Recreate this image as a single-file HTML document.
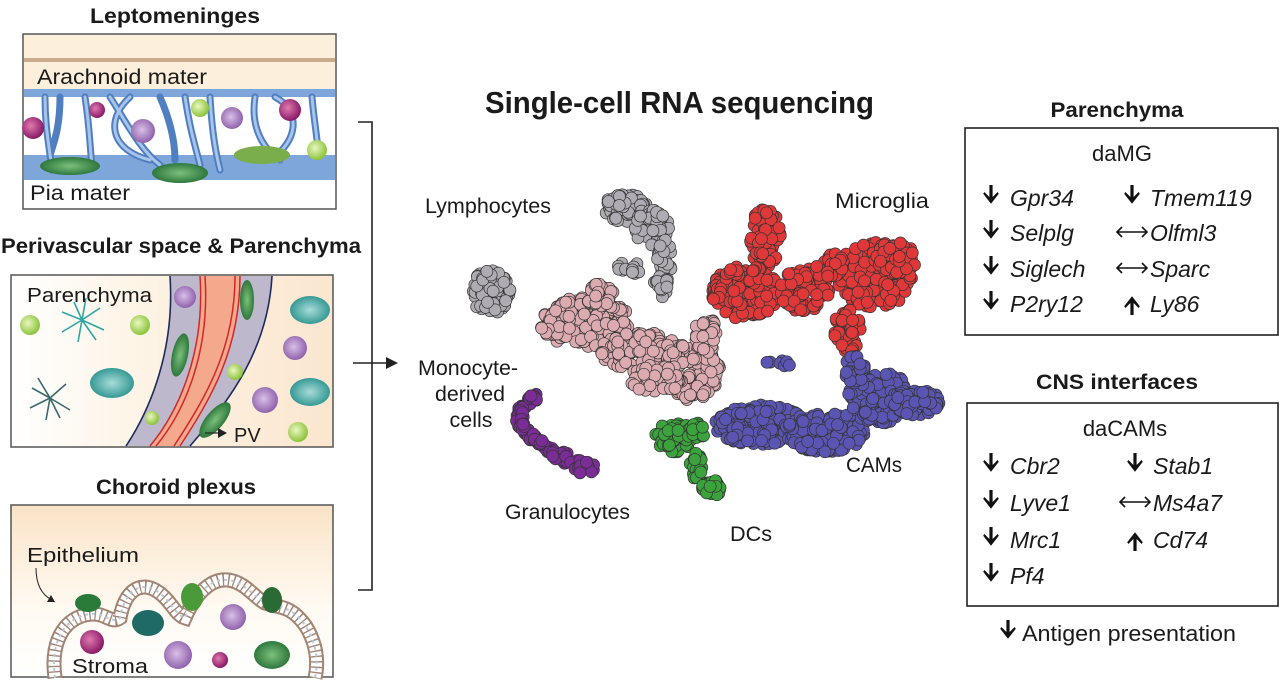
<!DOCTYPE html>
<html><head><meta charset="utf-8"><style>
html,body{margin:0;padding:0;background:#fff;}
svg{display:block;}
text{font-family:"Liberation Sans",sans-serif;fill:#1a1a1a;}
.b{font-weight:bold;}
.i{font-style:italic;}
</style></head><body>
<svg id="s" width="1280" height="682" viewBox="0 0 1280 682" xmlns="http://www.w3.org/2000/svg">
<defs>
<linearGradient id="pv" x1="0" x2="1" y1="0" y2="0"><stop offset="0" stop-color="#ffffff"/><stop offset="0.5" stop-color="#fdf1e0"/><stop offset="1" stop-color="#fbe6cf"/></linearGradient>
<linearGradient id="cp" x1="0" x2="0" y1="0" y2="1"><stop offset="0" stop-color="#fae3c6"/><stop offset="0.6" stop-color="#fffaf2"/><stop offset="1" stop-color="#ffffff"/></linearGradient>
<radialGradient id="mag" cx="0.4" cy="0.4" r="0.6"><stop offset="0" stop-color="#e07ab0"/><stop offset="1" stop-color="#8a1a66"/></radialGradient>
<radialGradient id="lg" cx="0.4" cy="0.4" r="0.6"><stop offset="0" stop-color="#eaf7c0"/><stop offset="1" stop-color="#8cc43c"/></radialGradient>
<radialGradient id="pur" cx="0.45" cy="0.45" r="0.6"><stop offset="0" stop-color="#d9c0e6"/><stop offset="1" stop-color="#8a5aa8"/></radialGradient>
<radialGradient id="dg" cx="0.5" cy="0.5" r="0.6"><stop offset="0" stop-color="#7cc07c"/><stop offset="1" stop-color="#1f6a30"/></radialGradient>
<radialGradient id="tl" cx="0.5" cy="0.5" r="0.6"><stop offset="0" stop-color="#a8dcd8"/><stop offset="1" stop-color="#1f8c88"/></radialGradient>
<path id="ep" d="M55,678 C50,640 65,620 85,615 C105,610 110,625 120,618 C125,590 140,582 155,590 C170,598 175,615 185,618 C195,595 210,578 228,580 C245,582 255,598 265,603 C280,608 290,605 305,625 C318,645 318,665 315,678"/>
</defs>

<text x="175" y="23" class="b" font-size="21" text-anchor="middle" textLength="170" lengthAdjust="spacingAndGlyphs">Leptomeninges</text>
<rect x="23" y="34" width="313" height="175" fill="#fff" stroke="#555" stroke-width="1.5"/>
<rect x="24" y="35" width="311" height="54" fill="#fcf0dc"/>
<rect x="24" y="58" width="311" height="4" fill="#c9ab8c"/>
<text x="37" y="84" font-size="21" textLength="170" lengthAdjust="spacingAndGlyphs">Arachnoid mater</text>
<rect x="24" y="89" width="311" height="8" fill="#7ea6da"/>
<rect x="24" y="155" width="311" height="25" fill="#7ea6da"/>
<g fill="none" stroke="#4f7fc0" stroke-width="7" stroke-linecap="round">
<path d="M45,97 C45,130 50,150 52,170"/><path d="M60,97 C60,125 55,140 50,155"/>
<path d="M85,97 C90,130 90,150 92,165"/><path d="M110,97 C125,120 140,150 160,165"/>
<path d="M130,97 C105,120 110,150 150,160"/><path d="M160,97 C170,120 175,140 175,160"/>
<path d="M185,97 C190,130 195,145 200,165"/><path d="M210,97 C212,130 215,150 220,170"/>
<path d="M255,97 C250,130 265,150 280,160"/><path d="M275,97 C300,110 300,140 270,160"/>
<path d="M312,97 C315,130 318,140 318,155"/>
</g>
<g fill="none" stroke="#a9c4ea" stroke-width="3" stroke-linecap="round">
<path d="M45,97 C45,130 50,150 52,170"/><path d="M85,97 C90,130 90,150 92,165"/><path d="M110,97 C125,120 140,150 160,165"/><path d="M130,97 C105,120 110,150 150,160"/><path d="M185,97 C190,130 195,145 200,165"/><path d="M210,97 C212,130 215,150 220,170"/><path d="M255,97 C250,130 265,150 280,160"/><path d="M275,97 C300,110 300,140 270,160"/><path d="M312,97 C315,130 318,140 318,155"/>
</g>
<ellipse cx="70" cy="166" rx="30" ry="9" fill="url(#dg)"/><ellipse cx="180" cy="173" rx="28" ry="10" fill="url(#dg)"/><ellipse cx="262" cy="155" rx="28" ry="9" fill="#7aae4c"/>
<circle cx="33" cy="128" r="11" fill="url(#mag)"/><circle cx="97" cy="110" r="8" fill="url(#mag)"/><circle cx="290" cy="110" r="11" fill="url(#mag)"/>
<circle cx="200" cy="108" r="9" fill="url(#lg)"/><circle cx="317" cy="150" r="10" fill="url(#lg)"/>
<circle cx="143" cy="131" r="12" fill="url(#pur)"/><circle cx="232" cy="118" r="11" fill="url(#pur)"/>
<text x="30" y="200" font-size="21" textLength="100" lengthAdjust="spacingAndGlyphs">Pia mater</text>

<text x="181" y="253" class="b" font-size="21" text-anchor="middle" textLength="360" lengthAdjust="spacingAndGlyphs">Perivascular space &amp; Parenchyma</text>
<rect x="11" y="275" width="322" height="172" fill="url(#pv)" stroke="#555" stroke-width="1.5"/>
<path d="M170,276 C175,350 150,410 126,446 L190,446 C230,400 268,350 272,276 Z" fill="#bdb8cc"/>
<path d="M200,276 C205,350 180,410 150,446 L180,446 C210,400 240,350 240,276 Z" fill="#f4a98c"/>
<g fill="none" stroke="#d02828" stroke-width="1.5">
<path d="M200,276 C205,350 180,410 150,446"/><path d="M205,276 C210,350 186,410 156,446"/>
<path d="M240,276 C240,350 210,400 180,446"/><path d="M235,276 C235,350 204,400 174,446"/>
</g>
<g fill="none" stroke="#1d2a5a" stroke-width="1.6">
<path d="M170,276 C175,350 150,410 126,446"/><path d="M272,276 C268,350 230,400 190,446"/>
</g>
<ellipse cx="180" cy="355" rx="8" ry="22" fill="url(#dg)" transform="rotate(12 180 355)"/>
<ellipse cx="247" cy="300" rx="7" ry="20" fill="url(#dg)"/>
<ellipse cx="215" cy="420" rx="9" ry="22" fill="url(#dg)" transform="rotate(40 215 420)"/>
<circle cx="185" cy="297" r="11" fill="url(#pur)"/><circle cx="295" cy="348" r="12" fill="url(#pur)"/><circle cx="265" cy="400" r="13" fill="url(#pur)"/>
<circle cx="30" cy="325" r="10" fill="url(#lg)"/><circle cx="140" cy="325" r="10" fill="url(#lg)"/><circle cx="235" cy="372" r="8" fill="url(#lg)"/><circle cx="152" cy="418" r="7" fill="url(#lg)"/><circle cx="298" cy="432" r="10" fill="url(#lg)"/>
<ellipse cx="310" cy="310" rx="20" ry="14" fill="url(#tl)"/><ellipse cx="310" cy="392" rx="20" ry="14" fill="url(#tl)"/><ellipse cx="112" cy="383" rx="22" ry="15" fill="url(#tl)"/>
<g stroke="#2fa7a0" stroke-width="1.6" fill="none"><path d="M82,320 l-20,-8 M82,320 l18,-12 M82,320 l-4,22 M82,320 l22,10 M82,320 l-8,-18 M82,320 l-20,12 M82,320 l14,20 M82,320 l4,-22"/></g>
<g stroke="#3b6a6a" stroke-width="1.6" fill="none"><path d="M50,398 l-18,-10 M50,398 l16,-14 M50,398 l-4,22 M50,398 l20,12 M50,398 l-12,-20 M50,398 l-20,10 M50,398 l10,20"/></g>
<text x="27" y="302" font-size="20" textLength="125" lengthAdjust="spacingAndGlyphs">Parenchyma</text>
<path d="M205,433 L218,433" stroke="#222" stroke-width="1.2"/><path d="M218,428 L227,433 L218,438 Z" fill="#222"/>
<text x="234" y="442" font-size="20">PV</text>

<text x="176" y="494" class="b" font-size="21" text-anchor="middle" textLength="160" lengthAdjust="spacingAndGlyphs">Choroid plexus</text>
<rect x="11" y="505" width="322" height="172" fill="url(#cp)" stroke="#555" stroke-width="1.5"/>
<use href="#ep" fill="none" stroke="#a08474" stroke-width="15"/>
<use href="#ep" fill="none" stroke="#fff" stroke-width="11"/>
<use href="#ep" fill="none" stroke="#a08474" stroke-width="15" stroke-dasharray="1.4 4"/>
<use href="#ep" fill="none" stroke="#b8c8d8" stroke-width="2" stroke-dasharray="3 4"/>
<ellipse cx="88" cy="603" rx="13" ry="9" fill="#2a7a3a"/><ellipse cx="192" cy="597" rx="11" ry="14" fill="#4a9a3a"/><ellipse cx="272" cy="600" rx="10" ry="13" fill="#2a6a34"/>
<ellipse cx="148" cy="623" rx="16" ry="13" fill="#1f6a66"/><ellipse cx="272" cy="655" rx="18" ry="14" fill="url(#dg)"/>
<circle cx="92" cy="642" r="12" fill="url(#mag)"/><circle cx="220" cy="660" r="8" fill="url(#mag)"/>
<circle cx="178" cy="655" r="14" fill="url(#pur)"/><circle cx="233" cy="617" r="13" fill="url(#pur)"/>
<text x="27" y="562" font-size="20" textLength="112" lengthAdjust="spacingAndGlyphs">Epithelium</text>
<path d="M36,568 C36,585 42,595 52,600" fill="none" stroke="#222" stroke-width="1"/><path d="M47,602 L55,602 L51,595 Z" fill="#222"/>
<text x="72" y="673" font-size="20" textLength="76" lengthAdjust="spacingAndGlyphs">Stroma</text>

<path d="M358,122 H372 V590 H358" fill="none" stroke="#222" stroke-width="1.6"/>
<path d="M353,363 H390" stroke="#222" stroke-width="1.6"/><path d="M386,357 L398,363 L386,369 Z" fill="#222"/>

<text x="485" y="113" class="b" font-size="31" textLength="389" lengthAdjust="spacingAndGlyphs">Single-cell RNA sequencing</text>

<g id="dots"></g>

<text x="425" y="213" font-size="21" textLength="126" lengthAdjust="spacingAndGlyphs">Lymphocytes</text>
<text x="835" y="208" font-size="21" textLength="94" lengthAdjust="spacingAndGlyphs">Microglia</text>
<text x="468" y="375" font-size="21" text-anchor="middle" textLength="100" lengthAdjust="spacingAndGlyphs">Monocyte-</text>
<text x="470" y="401" font-size="21" text-anchor="middle" textLength="70" lengthAdjust="spacingAndGlyphs">derived</text>
<text x="471" y="427" font-size="21" text-anchor="middle" textLength="43" lengthAdjust="spacingAndGlyphs">cells</text>
<text x="505" y="519" font-size="21" textLength="125" lengthAdjust="spacingAndGlyphs">Granulocytes</text>
<text x="730" y="541" font-size="21" textLength="42" lengthAdjust="spacingAndGlyphs">DCs</text>
<text x="846" y="472" font-size="21" textLength="56" lengthAdjust="spacingAndGlyphs">CAMs</text>

<text x="1117" y="117" class="b" font-size="21" text-anchor="middle" textLength="133" lengthAdjust="spacingAndGlyphs">Parenchyma</text>
<rect x="965" y="128" width="313" height="207" fill="none" stroke="#222" stroke-width="1.6"/>
<text x="1122" y="161" font-size="22" text-anchor="middle">daMG</text>
<g font-size="23">
<text x="1010" y="206" class="i">Gpr34</text><text x="1010" y="241" class="i">Selplg</text><text x="1010" y="277" class="i">Siglech</text><text x="1010" y="312" class="i">P2ry12</text>
<text x="1150" y="206" class="i">Tmem119</text><text x="1150" y="241" class="i">Olfml3</text><text x="1150" y="277" class="i">Sparc</text><text x="1150" y="312" class="i">Ly86</text>
</g>
<text x="1117" y="389" class="b" font-size="21" text-anchor="middle" textLength="162" lengthAdjust="spacingAndGlyphs">CNS interfaces</text>
<rect x="967" y="403" width="311" height="203" fill="none" stroke="#222" stroke-width="1.6"/>
<text x="1125" y="436" font-size="22" text-anchor="middle">daCAMs</text>
<g font-size="23">
<text x="1010" y="474" class="i">Cbr2</text><text x="1010" y="511" class="i">Lyve1</text><text x="1010" y="548" class="i">Mrc1</text><text x="1010" y="584" class="i">Pf4</text>
<text x="1153" y="474" class="i">Stab1</text><text x="1153" y="511" class="i">Ms4a7</text><text x="1153" y="548" class="i">Cd74</text>
</g>
<text x="1022" y="641" font-size="22" textLength="214" lengthAdjust="spacingAndGlyphs">Antigen presentation</text>
<g id="arr"></g>
</svg>
<script>
(function(){
var NS="http://www.w3.org/2000/svg";
var arr=document.getElementById("arr");
function down(x,y){var g=document.createElementNS(NS,"path");g.setAttribute("d","M"+(x-1.6)+","+(y-12)+" h3.2 v12 l5,-5 1.2,1.8 -7.8,10 -7.8,-10 1.2,-1.8 5,5 z");g.setAttribute("fill","#111");arr.appendChild(g);}
function up(x,y){var g=document.createElementNS(NS,"path");g.setAttribute("d","M"+(x-1.6)+","+(y+12)+" h3.2 v-12 l5,5 1.2,-1.8 -7.8,-10 -7.8,10 1.2,1.8 5,-5 z");g.setAttribute("fill","#111");arr.appendChild(g);}
function lr(x,y){var g=document.createElementNS(NS,"path");g.setAttribute("d","M"+(x-15)+","+y+" h30 M"+(x-10)+","+(y-5)+" l-5,5 5,5 M"+(x+10)+","+(y-5)+" l5,5 -5,5");g.setAttribute("stroke","#111");g.setAttribute("stroke-width","1.6");g.setAttribute("fill","none");arr.appendChild(g);}
[197,232,268,303].forEach(function(y){down(991,y);});
down(1132,197);lr(1132,232);lr(1132,268);up(1132,303);
[465,502,539,575].forEach(function(y){down(991,y);});
down(1135,465);lr(1135,502);up(1135,539);
down(1008,632);
var seed=7;function r(){seed=(seed*16807)%2147483647;return seed/2147483647;}
var g=document.getElementById("dots");
function blob(c,cx,cy,rx,ry,n){n=Math.round(n*1.5);for(var i=0;i<n;i++){var a=r()*6.283,d=Math.sqrt(r());var x=cx+Math.cos(a)*d*rx,y=cy+Math.sin(a)*d*ry;var e=document.createElementNS(NS,"circle");e.setAttribute("cx",x.toFixed(1));e.setAttribute("cy",y.toFixed(1));e.setAttribute("r","6");e.setAttribute("fill",c);e.setAttribute("stroke","#333");e.setAttribute("stroke-width","0.7");g.appendChild(e);}}
var GR="#aeacb2",PK="#dbabb0",RD="#e03838",BL="#5a55b2",PU="#7b2c97",GN="#3ba33c";
[[490,292,20,22,70],[625,208,22,14,45],[652,228,18,18,45],[665,258,8,20,20],[662,288,9,12,14],[622,268,5,5,3],[636,270,5,7,5]].forEach(function(b){blob(GR,b[0],b[1],b[2],b[3],b[4]);});
[[585,322,45,25,140],[600,295,14,12,20],[640,352,40,20,90],[690,372,30,28,90],[706,335,12,18,20],[655,380,25,15,30]].forEach(function(b){blob(PK,b[0],b[1],b[2],b[3],b[4]);});
[[765,238,16,30,55],[745,292,33,27,130],[805,290,25,22,60],[875,275,38,33,160],[848,330,14,22,35],[895,258,22,16,40],[830,265,15,12,20]].forEach(function(b){blob(RD,b[0],b[1],b[2],b[3],b[4]);});
[[760,425,45,20,140],[825,432,40,20,110],[880,398,32,26,120],[915,402,25,13,50],[855,370,10,15,25],[770,362,3,3,1],[785,365,6,5,3]].forEach(function(b){blob(BL,b[0],b[1],b[2],b[3],b[4]);});
var pts=[[535,396],[520,410],[520,425],[535,440],[555,452],[575,462],[590,470]];
for(var k=0;k<pts.length-1;k++){for(var j=0;j<10;j++){var t=r();var x=pts[k][0]+(pts[k+1][0]-pts[k][0])*t,y=pts[k][1]+(pts[k+1][1]-pts[k][1])*t;blob(PU,x,y,k>3?9:4,k>3?8:4,1);}}
[[675,437,20,15,55],[698,430,8,8,12],[696,465,6,14,18],[712,488,10,8,18]].forEach(function(b){blob(GN,b[0],b[1],b[2],b[3],b[4]);});
})();
</script>
</body></html>
